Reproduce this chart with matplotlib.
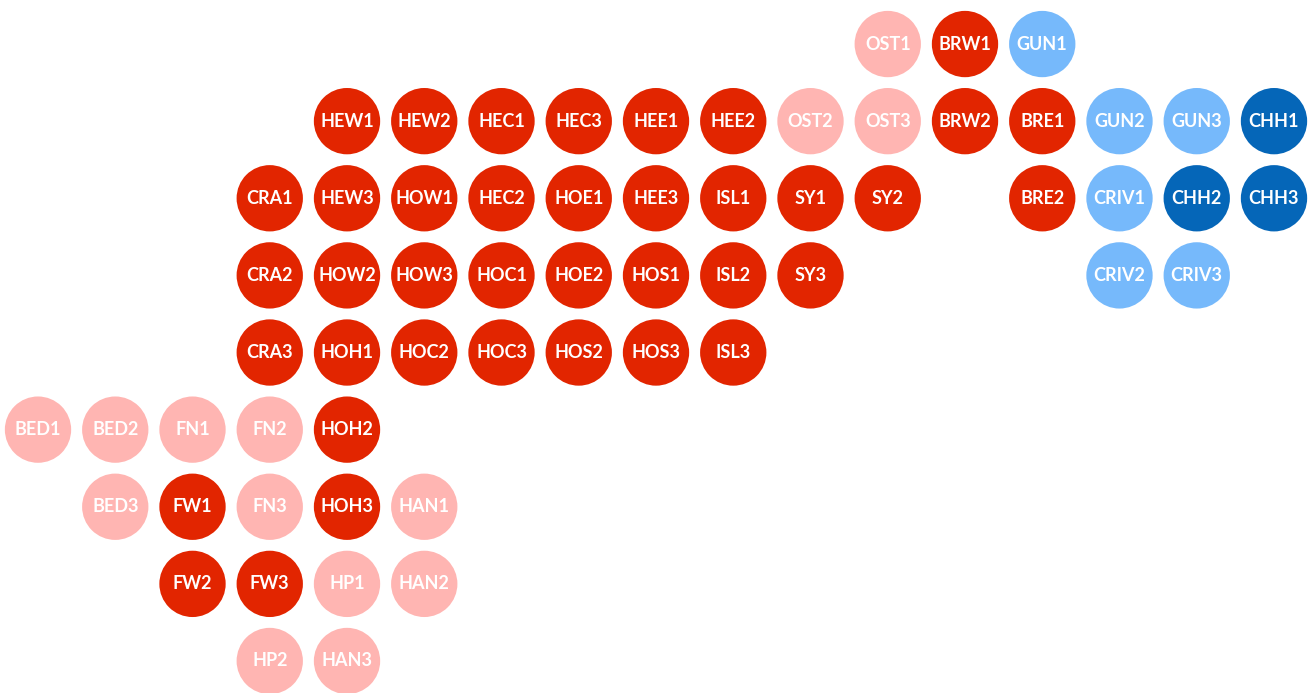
import matplotlib
matplotlib.use("Agg")
import matplotlib.pyplot as plt

# constituency codes by grid row, (col, row) from top left
labels = ["OST1", "BRW1", "GUN1",
          "HEW1", "HEW2", "HEC1", "HEC3", "HEE1", "HEE2", "OST2", "OST3", "BRW2", "BRE1", "GUN2", "GUN3", "CHH1",
          "CRA1", "HEW3", "HOW1", "HEC2", "HOE1", "HEE3", "ISL1", "SY1", "SY2", "BRE2", "CRIV1", "CHH2", "CHH3",
          "CRA2", "HOW2", "HOW3", "HOC1", "HOE2", "HOS1", "ISL2", "SY3", "CRIV2", "CRIV3",
          "CRA3", "HOH1", "HOC2", "HOC3", "HOS2", "HOS3", "ISL3",
          "BED1", "BED2", "FN1", "FN2", "HOH2",
          "BED3", "FW1", "FN3", "HOH3", "HAN1",
          "FW2", "FW3", "HP1", "HAN2",
          "HP2", "HAN3"]
cols = [11, 12, 13,
        4, 5, 6, 7, 8, 9, 10, 11, 12, 13, 14, 15, 16,
        3, 4, 5, 6, 7, 8, 9, 10, 11, 13, 14, 15, 16,
        3, 4, 5, 6, 7, 8, 9, 10, 14, 15,
        3, 4, 5, 6, 7, 8, 9,
        0, 1, 2, 3, 4,
        1, 2, 3, 4, 5,
        2, 3, 4, 5,
        3, 4]
rows = [0, 0, 0,
        1, 1, 1, 1, 1, 1, 1, 1, 1, 1, 1, 1, 1,
        2, 2, 2, 2, 2, 2, 2, 2, 2, 2, 2, 2, 2,
        3, 3, 3, 3, 3, 3, 3, 3, 3, 3,
        4, 4, 4, 4, 4, 4, 4,
        5, 5, 5, 5, 5,
        6, 6, 6, 6, 6,
        7, 7, 7, 7,
        8, 8]
# r = red, p = pale red, l = light blue, b = dark blue
groups = list("prl"
              + "rrrrrrpprrllb"
              + "rrrrrrrrrrlbb"
              + "rrrrrrrrll"
              + "rrrrrrr"
              + "ppppr"
              + "prprp"
              + "rrpp"
              + "pp")

colours = {"r": "#E22500", "p": "#FFB5B2", "l": "#76B9FB", "b": "#0566B8"}

fig = plt.figure(figsize=(13.11, 6.93), dpi=100)
ax = fig.add_axes([0, 0, 1, 1])

ax.scatter(cols, rows, s=2280, c=[colours[g] for g in groups], linewidths=0)
for x, y, name in zip(cols, rows, labels):
    ax.text(x, y, name, ha="center", va="center", color="white",
            fontsize=13, fontweight="bold", family="Lato")

ax.set_xlim(-0.492, 16.479)
ax.set_ylim(8.415, -0.571)
ax.axis("off")

fig.savefig("out.png", dpi=100)
